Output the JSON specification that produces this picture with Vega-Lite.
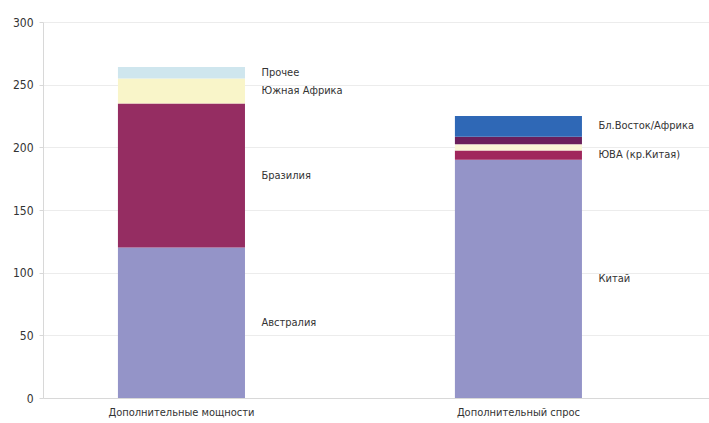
{
  "$schema": "https://vega.github.io/schema/vega-lite/v6.json",
  "width": 666,
  "height": 376,
  "autosize": {"type": "none"},
  "padding": {"left": 43, "top": 22, "right": 0, "bottom": 25},
  "background": "white",
  "config": {
    "view": {"stroke": null},
    "font": "'DejaVu Sans Condensed', 'Liberation Sans', sans-serif"
  },
  "data": {
    "values": [
      {"cat": "Дополнительные мощности", "seg": "Австралия", "lbl": "Австралия", "ord": 1, "v": 120},
      {"cat": "Дополнительные мощности", "seg": "Бразилия", "lbl": "Бразилия", "ord": 2, "v": 115},
      {"cat": "Дополнительные мощности", "seg": "Южная Африка", "lbl": "Южная Африка", "ord": 3, "v": 20},
      {"cat": "Дополнительные мощности", "seg": "Прочее", "lbl": "Прочее", "ord": 4, "v": 9},
      {"cat": "Дополнительный спрос", "seg": "Китай", "lbl": "Китай", "ord": 1, "v": 190},
      {"cat": "Дополнительный спрос", "seg": "ЮВА (кр.Китая)", "lbl": "ЮВА (кр.Китая)", "ord": 2, "v": 7.5},
      {"cat": "Дополнительный спрос", "seg": "Другие 1", "lbl": "", "ord": 3, "v": 5},
      {"cat": "Дополнительный спрос", "seg": "Другие 2", "lbl": "", "ord": 4, "v": 6},
      {"cat": "Дополнительный спрос", "seg": "Бл.Восток/Африка", "lbl": "Бл.Восток/Африка", "ord": 5, "v": 16.5}
    ]
  },
  "transform": [
    {"stack": "v", "groupby": ["cat"], "sort": [{"field": "ord", "order": "ascending"}], "as": ["y0", "y1"]},
    {"calculate": "(datum.y0 + datum.y1) / 2", "as": "ymid"}
  ],
  "encoding": {
    "x": {
      "field": "cat",
      "type": "nominal",
      "sort": null,
      "scale": {"paddingInner": 0.623, "paddingOuter": 0.2997, "align": 0.371},
      "axis": {
        "title": null,
        "labelAngle": 0,
        "labelFontSize": 11,
        "labelColor": "#333333",
        "labelPadding": 8,
        "ticks": false,
        "domainColor": "#d8d8d8",
        "grid": false
      }
    }
  },
  "layer": [
    {
      "mark": {"type": "bar"},
      "encoding": {
        "y": {
          "field": "y0",
          "type": "quantitative",
          "scale": {"domain": [0, 300], "nice": false},
          "axis": {
            "title": null,
            "values": [0, 50, 100, 150, 200, 250, 300],
            "labelFontSize": 12,
            "labelColor": "#333333",
            "labelPadding": 6,
            "tickColor": "#d8d8d8",
            "tickSize": 4,
            "domainColor": "#d8d8d8",
            "gridColor": "#ececec"
          }
        },
        "y2": {"field": "y1"},
        "color": {
          "field": "seg",
          "type": "nominal",
          "legend": null,
          "scale": {
            "domain": ["Австралия", "Бразилия", "Южная Африка", "Прочее", "Китай", "ЮВА (кр.Китая)", "Другие 1", "Другие 2", "Бл.Восток/Африка"],
            "range": ["#9494c8", "#952d62", "#f9f5c9", "#cfe6ee", "#9494c8", "#a0275c", "#f9f5d6", "#6a1f5c", "#2f68b6"]
          }
        }
      }
    },
    {
      "transform": [{"filter": "datum.lbl != ''"}],
      "mark": {"type": "text", "align": "left", "baseline": "middle", "dx": 80, "fontSize": 11, "color": "#333333"},
      "encoding": {
        "y": {"field": "ymid", "type": "quantitative"},
        "text": {"field": "lbl"}
      }
    }
  ]
}
